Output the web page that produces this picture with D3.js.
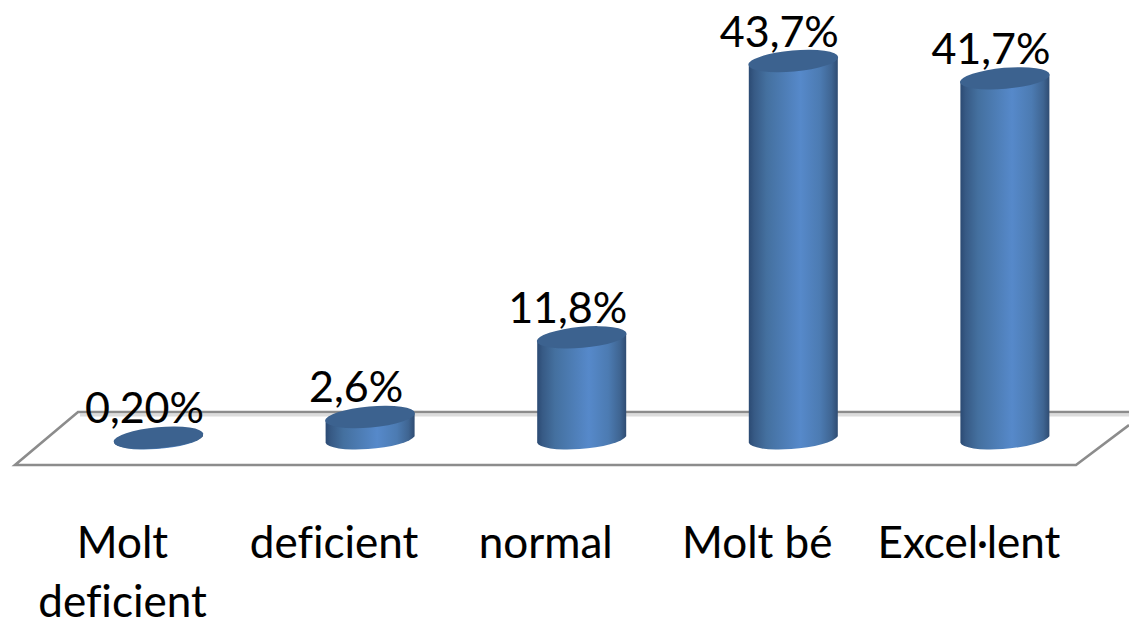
<!DOCTYPE html>
<html><head><meta charset="utf-8">
<script src="https://cdn.jsdelivr.net/npm/d3@7/dist/d3.min.js"></script>
<style>html,body{margin:0;padding:0;background:#fff;overflow:hidden}svg{display:block}text{font-family:Lato,"Open Sans",sans-serif;fill:#000;stroke:#000;stroke-width:.1;font-variant-ligatures:none}</style>
</head><body><svg id="c" width="1129" height="620"></svg>
<script>
const categories=[["Molt","deficient"],["deficient"],["normal"],["Molt bé"],["Excel·lent"]];
const values=[0.2,2.6,11.8,43.7,41.7];
const valueLabels=["0,20%","2,6%","11,8%","43,7%","41,7%"];
const svg=d3.select("#c");
const x=d3.scaleBand().domain(d3.range(categories.length)).range([52.7,1110.7]);
const y=d3.scaleLinear().domain([0,43.7]).range([439.5,61]);
const barW=89,rx=45,ry=10.5,rot=-5;
const defs=svg.append("defs");
const g=defs.append("linearGradient").attr("id","cyl").attr("x1",0).attr("x2",1).attr("y1",0).attr("y2",0);
[[0,"#2b4a73"],[0.06,"#375a85"],[0.2,"#44709f"],[0.58,"#5689ca"],[0.8,"#4c7bb2"],[0.93,"#3f6592"],[1,"#2f4c72"]]
 .forEach(([o,c])=>g.append("stop").attr("offset",o).attr("stop-color",c));
const floor=svg.append("g").attr("fill","none");
floor.append("path").attr("d","M80,415H1129").attr("stroke","#dcdcdc").attr("stroke-width",3);
floor.append("path").attr("d","M1129,425L1076,465H15L78,412H1129").attr("stroke","#8c8c8c").attr("stroke-width",2.6);
const cx=i=>x(i)+x.bandwidth()/2;
const dy=rx*Math.sin(-rot*Math.PI/180)*0.8;
const bars=svg.append("g").selectAll("g").data(values).join("g");
bars.append("path").attr("fill","url(#cyl)")
 .attr("d",(d,i)=>{const c=cx(i),l=c-barW/2,r=c+barW/2,t=y(d),b=y(0);
   return `M${l},${t+dy}A${rx},${ry} ${rot} 0 1 ${r},${t-dy}L${r},${b-dy}A${rx},${ry} ${rot} 0 1 ${l},${b+dy}Z`;});
bars.append("ellipse").attr("fill","#3c628f")
 .attr("cx",(d,i)=>cx(i)).attr("cy",d=>y(d)).attr("rx",rx).attr("ry",ry)
 .attr("transform",(d,i)=>`rotate(${rot} ${cx(i)} ${y(d)})`);
svg.append("g").selectAll("text").data(valueLabels).join("text")
 .attr("x",(d,i)=>cx(i)-14).attr("y",(d,i)=>y(values[i])-14.5)
 .attr("text-anchor","middle").attr("font-size",43).text(d=>d);
const cat=svg.append("g").selectAll("text").data(categories).join("text")
 .attr("text-anchor","middle").attr("font-size",44);
cat.selectAll("tspan").data((d,i)=>d.map((t,j)=>({t,j,i}))).join("tspan")
 .attr("x",d=>cx(d.i)-36).attr("y",d=>558+d.j*59).text(d=>d.t);
</script></body></html>
